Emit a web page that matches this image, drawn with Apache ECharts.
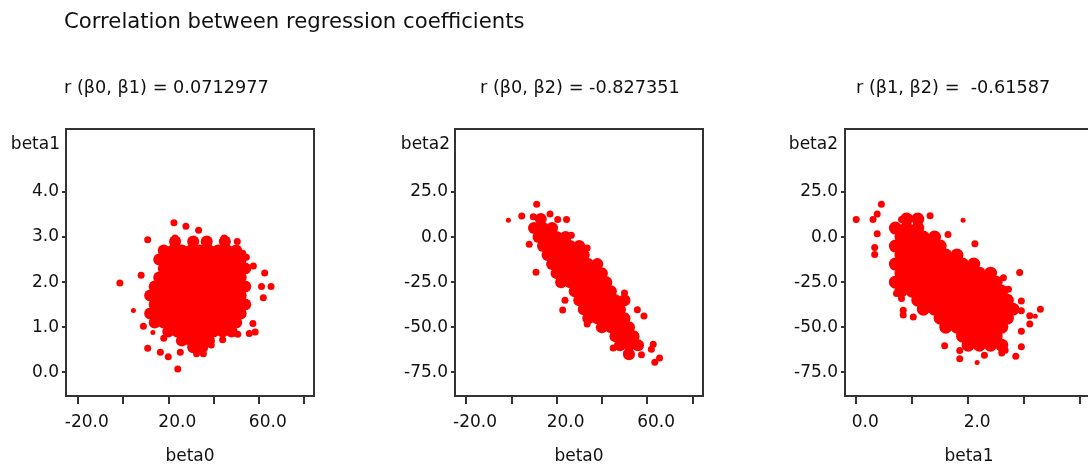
<!DOCTYPE html>
<html>
<head>
<meta charset="utf-8">
<script src="https://cdn.jsdelivr.net/npm/echarts@6/dist/echarts.min.js"></script>
<style>
html,body{margin:0;padding:0;background:#fff;}
#chart{width:1088px;height:468px;}
</style>
</head>
<body>
<div id="chart"></div>
<script>
// ---------- text ----------
const mainTitle = 'Correlation between regression coefficients';
const panelTitles = ['r (\u03B20, \u03B21) = 0.0712977', 'r (\u03B20, \u03B22) = -0.827351', 'r (\u03B21, \u03B22) =  -0.61587'];
const xNames = ['beta0', 'beta0', 'beta1'];
const yNames = ['beta1', 'beta2', 'beta2'];

// ---------- tick values ----------
const xTicksB0 = [-20, 0, 20, 40, 60, 80];
const xLabelsB0 = [-20, 20, 60];
const xTicksB1 = [0, 1, 2, 3, 4];
const xLabelsB1 = [0, 2];
const yTicksB1 = [0, 1, 2, 3, 4];
const yTicksB2 = [-75, -50, -25, 0, 25];

// ---------- panel 1 : beta0 vs beta1 (dense cloud) ----------
const p1Core = [
  [23,2.9],[31,2.9],[37,2.9],[45,2.9],
  [18,2.7],[22,2.7],[26,2.7],[30,2.7],[34,2.7],[38,2.7],[42,2.7],[46,2.7],[50,2.7],
  [16,2.5],[20,2.5],[24,2.5],[28,2.5],[32,2.5],[36,2.5],[40,2.5],[44,2.5],[48,2.5],[52,2.5],
  [18,2.3],[22,2.3],[26,2.3],[30,2.3],[34,2.3],[38,2.3],[42,2.3],[46,2.3],[50,2.3],[54,2.3],
  [16,2.1],[20,2.1],[24,2.1],[28,2.1],[32,2.1],[36,2.1],[40,2.1],[44,2.1],[48,2.1],[52,2.1],
  [14,1.9],[18,1.9],[22,1.9],[26,1.9],[30,1.9],[34,1.9],[38,1.9],[42,1.9],[46,1.9],[50,1.9],[54,1.9],
  [12,1.7],[16,1.7],[20,1.7],[24,1.7],[28,1.7],[32,1.7],[36,1.7],[40,1.7],[44,1.7],[48,1.7],[52,1.7],
  [14,1.5],[18,1.5],[22,1.5],[26,1.5],[30,1.5],[34,1.5],[38,1.5],[42,1.5],[46,1.5],[50,1.5],[54,1.5],
  [12,1.3],[16,1.3],[20,1.3],[24,1.3],[28,1.3],[32,1.3],[36,1.3],[40,1.3],[44,1.3],[48,1.3],[52,1.3],
  [14,1.1],[18,1.1],[22,1.1],[26,1.1],[30,1.1],[34,1.1],[38,1.1],[42,1.1],[46,1.1],[50,1.1],
  [20,0.9],[24,0.9],[28,0.9],[32,0.9],[36,0.9],[40,0.9],[44,0.9],[48,0.9],
  [26,0.7],[30,0.7],[34,0.7],[38,0.7],
  [31,0.55],[35,0.55]
];
const p1Outer = [
  [22.5,3.32],[27.8,3.24],[33.4,3.15],[10.9,2.94],[23,2.98],[44.7,2.98],[50.5,2.9],
  [-1.4,1.98],[8,2.15],[57.6,2.36],[62.6,2.2],[61.2,1.9],[65.4,1.9],[62,1.65],
  [57.4,1.08],[58.4,0.89],[55.8,0.86],[50.7,0.84],[10.9,0.53],[16.5,0.44],[20,0.34],
  [25.3,0.44],[24.2,0.07],[32.5,0.41],[35.5,0.41],[9,1.02],[52.9,2.64],[54.5,2.55],
  [18,0.75],[39,0.6],[44,0.72]
];
const p1Small = [[4.6,1.37],[13.2,0.88]];

// ---------- panel 2 : beta0 vs beta2 ----------
const p2Core = [
  [13,10],
  [10,5],[14,5],[18,5],
  [12,0],[16,0],[20,0],[24,0],
  [14,-5],[18,-5],[22,-5],[26,-5],[30,-5],
  [16,-10],[20,-10],[24,-10],[28,-10],[32,-10],
  [18,-15],[22,-15],[26,-15],[30,-15],[34,-15],[38,-15],
  [20,-20],[24,-20],[28,-20],[32,-20],[36,-20],[40,-20],
  [22,-25],[26,-25],[30,-25],[34,-25],[38,-25],[42,-25],
  [28,-30],[32,-30],[36,-30],[40,-30],[44,-30],
  [30,-35],[34,-35],[38,-35],[42,-35],[46,-35],[50,-35],
  [32,-40],[36,-40],[40,-40],[44,-40],[48,-40],
  [34,-45],[38,-45],[42,-45],[46,-45],[50,-45],
  [40,-50],[44,-50],[48,-50],[52,-50],
  [46,-55],[50,-55],[54,-55],
  [48,-60],[52,-60],[56,-60],
  [52,-65]
];
const p2Outer = [
  [11.2,18.2],[4.6,11.7],[9.7,11.3],[17.1,12.8],[20.5,9.8],[24.4,9.8],[7.9,-4],
  [10.9,-19.5],[22.7,-40.4],[23.7,-35],[55.7,-40.3],[58.6,-43.8],[62.7,-59.5],
  [61.9,-62.2],[65.5,-67.1],[63.4,-69.5],[57.5,-65.3],[50.9,-64.5],[45,-61.5],
  [33.5,-48.3],[50,-31],[26.5,1],[33.5,-6]
];
const p2Small = [[-1.3,9.4]];

// ---------- panel 3 : beta1 vs beta2 ----------
const p3Core = [
  [0.9,10],[1.1,10],
  [0.7,5],[0.9,5],[1.1,5],
  [0.8,0],[1.0,0],[1.2,0],[1.4,0],
  [0.7,-5],[0.9,-5],[1.1,-5],[1.3,-5],[1.5,-5],
  [0.8,-10],[1.0,-10],[1.2,-10],[1.4,-10],[1.6,-10],[1.8,-10],
  [0.7,-15],[0.9,-15],[1.1,-15],[1.3,-15],[1.5,-15],[1.7,-15],[1.9,-15],[2.1,-15],
  [0.8,-20],[1.0,-20],[1.2,-20],[1.4,-20],[1.6,-20],[1.8,-20],[2.0,-20],[2.2,-20],[2.4,-20],
  [0.7,-25],[0.9,-25],[1.1,-25],[1.3,-25],[1.5,-25],[1.7,-25],[1.9,-25],[2.1,-25],[2.3,-25],[2.5,-25],
  [0.8,-30],[1.0,-30],[1.2,-30],[1.4,-30],[1.6,-30],[1.8,-30],[2.0,-30],[2.2,-30],[2.4,-30],[2.6,-30],
  [1.1,-35],[1.3,-35],[1.5,-35],[1.7,-35],[1.9,-35],[2.1,-35],[2.3,-35],[2.5,-35],[2.7,-35],
  [1.2,-40],[1.4,-40],[1.6,-40],[1.8,-40],[2.0,-40],[2.2,-40],[2.4,-40],[2.6,-40],[2.8,-40],
  [1.5,-45],[1.7,-45],[1.9,-45],[2.1,-45],[2.3,-45],[2.5,-45],[2.7,-45],
  [1.6,-50],[1.8,-50],[2.0,-50],[2.2,-50],[2.4,-50],[2.6,-50],
  [1.9,-55],[2.1,-55],[2.3,-55],[2.5,-55],
  [2.0,-60],[2.2,-60],[2.4,-60],[2.6,-60]
];
const p3Outer = [
  [0.0,9.8],[0.3,9.8],[0.375,12.8],[0.45,18.2],[0.375,1.8],[0.33,-5.8],[0.33,-9.6],
  [0.81,9.8],[0.96,10.6],[1.32,11.9],[1.64,1.5],[2.12,-3.7],[2.92,-19.6],[2.63,-22.6],
  [2.95,-35.5],[2.95,-40.9],[3.29,-40.1],[3.1,-43.7],[3.1,-48.3],[2.95,-52.2],[2.95,-60.9],
  [2.85,-66.1],[2.66,-62.8],[2.6,-64.3],[2.29,-65.6],[1.85,-63],[1.85,-67.5],[1.58,-60.3],
  [1.02,-44.3],[0.84,-40.6],[0.84,-43.3],[0.81,-34.1],[0.72,-31.3],[2.72,-29]
];
const p3Small = [[1.91,9.3],[3.2,-44],[2.16,-69.6]];

// ---------- build ----------
const FONT = 'DejaVu Sans';
const TXT = '#111';
const RED = '#ff0000';
const grids = [
  {left: 66, top: 129, width: 248, height: 267},
  {left: 455, top: 129, width: 248, height: 267},
  {left: 845, top: 129, width: 248, height: 267}
];
const xRanges = [[-25.2, 84.4], [-24.9, 84.7], [-0.2, 4.23]];
const yRanges = [[-0.53, 5.4], [-88.2, 60], [-88.2, 60]];
const xTickSets = [xTicksB0, xTicksB0, xTicksB1];
const xLabelSets = [xLabelsB0, xLabelsB0, xLabelsB1];
const yTickSets = [yTicksB1, yTicksB2, yTicksB2];
const yNamePad = [6, 5, 7];
const fmt = v => Number(v).toFixed(1);

const option = {
  animation: false,
  backgroundColor: '#fff',
  title: [
    {text: mainTitle, left: 64, top: 12, padding: 0,
     textStyle: {fontFamily: FONT, fontSize: 21.2, fontWeight: 'normal', color: TXT}},
    ...panelTitles.map((t, i) => ({
      text: t, left: [64, 480, 856][i], top: 79, padding: 0,
      textStyle: {fontFamily: FONT, fontSize: 17.7, fontWeight: 'normal', color: TXT}
    }))
  ],
  grid: grids.map(g => Object.assign({show: true, borderColor: '#333', borderWidth: 2,
    backgroundColor: 'transparent', containLabel: false, outerBoundsMode: 'none'}, g)),
  xAxis: grids.map((g, i) => ({
    gridIndex: i, type: 'value', min: xRanges[i][0], max: xRanges[i][1],
    name: xNames[i], nameLocation: 'middle', nameGap: 52, nameMoveOverlap: false,
    nameTextStyle: {fontFamily: FONT, fontSize: 17, color: TXT},
    axisLine: {show: false, onZero: false},
    splitLine: {show: false},
    axisTick: {show: true, length: 8, customValues: xTickSets[i], lineStyle: {color: '#333', width: 2}},
    axisLabel: {show: true, customValues: xLabelSets[i], formatter: fmt, margin: 18,
      fontFamily: FONT, fontSize: 17, color: TXT, padding: [0, 0, 0, 18]}
  })),
  yAxis: grids.map((g, i) => ({
    gridIndex: i, type: 'value', min: yRanges[i][0], max: yRanges[i][1],
    name: yNames[i], nameLocation: 'end', nameGap: -16, nameMoveOverlap: false,
    nameTextStyle: {fontFamily: FONT, fontSize: 17, color: TXT, align: 'right', verticalAlign: 'middle', padding: [0, yNamePad[i], 0, 0]},
    axisLine: {show: false, onZero: false},
    splitLine: {show: false},
    axisTick: {show: true, length: 4, customValues: yTickSets[i], lineStyle: {color: '#333', width: 2}},
    axisLabel: {show: true, customValues: yTickSets[i], formatter: fmt, margin: 7,
      fontFamily: FONT, fontSize: 17, color: TXT}
  })),
  series: []
};

const sets = [[p1Core, p1Outer, p1Small], [p2Core, p2Outer, p2Small], [p3Core, p3Outer, p3Small]];
const coreSize = [12, 12, 13];
sets.forEach((s, i) => {
  [[s[0], coreSize[i]], [s[1], 7], [s[2], 5]].forEach(([d, sz]) => {
    option.series.push({type: 'scatter', xAxisIndex: i, yAxisIndex: i, data: d, symbol: 'circle',
      symbolSize: sz, itemStyle: {color: RED, opacity: 1}, emphasis: {disabled: true}, silent: true});
  });
});

const chart = echarts.init(document.getElementById('chart'), null, {renderer: 'canvas'});
chart.setOption(option);
</script>
</body>
</html>
